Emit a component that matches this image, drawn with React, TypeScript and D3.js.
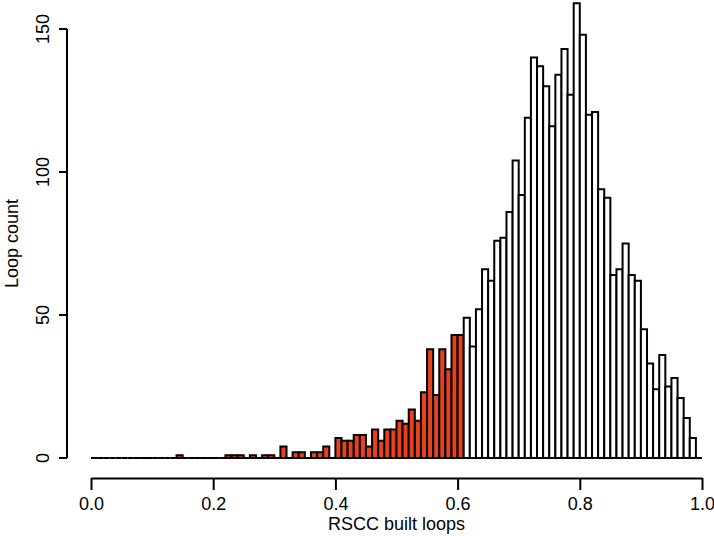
import React, { useRef, useEffect } from 'react';
import * as d3 from 'd3';

// histogram counts, bin width 0.01, starting at 0.00
// bins below 0.61 are highlighted in red
const lowCounts = [
  0, 0, 0, 0, 0, 0, 0, 0, 0, 0, 0, 0, 0, 0, 1, 0, 0, 0, 0, 0,
  0, 0, 1, 1, 1, 0, 1, 0, 1, 1, 0, 4, 0, 2, 2, 0, 2, 2, 4, 0,
  7, 6, 6, 8, 8, 4, 10, 6, 10, 10, 13, 12, 17, 13, 23, 38, 22, 38, 31, 43,
  43
];
const highCounts = [
  49, 39, 52, 66, 62, 76, 77, 86, 104, 92,
  119, 140, 137, 130, 116, 134, 143, 127, 159, 148,
  120, 121, 94, 91, 64, 66, 75, 64, 62, 45,
  33, 24, 36, 25, 28, 21, 14, 7, 0
];
const binWidth = 0.01;
const xTicks = [0, 0.2, 0.4, 0.6, 0.8, 1.0];
const yTicks = [0, 50, 100, 150];
const xTitle = 'RSCC built loops';
const yTitle = 'Loop count';

export default function App(): JSX.Element {
  const svgRef = useRef<SVGSVGElement>(null);

  useEffect(() => {
    const svgEle = svgRef.current;
    if (svgEle == null) return;
    const svg = d3.select(svgEle);
    svg.selectAll('*').remove();

    const font = '"Liberation Sans", Arial, Helvetica, sans-serif';
    const fontSize = 18;

    const x = d3.scaleLinear().domain([0, 1]).range([91, 702]);
    const y = d3.scaleLinear().domain([0, 150]).range([458, 29]);

    const bins = [
      ...lowCounts.map((c, i) => ({ x0: i * binWidth, count: c, red: true })),
      ...highCounts.map((c, i) => ({
        x0: (lowCounts.length + i) * binWidth,
        count: c,
        red: false
      }))
    ];

    // bars drawn as closed paths so empty bins still show as a line
    svg
      .append('g')
      .selectAll('path')
      .data(bins)
      .join('path')
      .attr('d', (d) => {
        const p = d3.path();
        const x0 = x(d.x0);
        const x1 = x(d.x0 + binWidth);
        p.moveTo(x0, y(0));
        p.lineTo(x0, y(d.count));
        p.lineTo(x1, y(d.count));
        p.lineTo(x1, y(0));
        p.closePath();
        return p.toString();
      })
      .attr('fill', (d) => (d.red ? '#E8411E' : '#ffffff'))
      .attr('stroke', '#000')
      .attr('stroke-width', 2)
      .attr('stroke-linejoin', 'miter');

    // x axis
    const xAxis = d3
      .axisBottom(x)
      .tickValues(xTicks)
      .tickFormat(d3.format('.1f'))
      .tickSize(12)
      .tickPadding(7)
      .tickSizeOuter(0);
    const gx = svg.append('g').attr('transform', 'translate(0,478)').call(xAxis);
    gx.select('.domain').attr('stroke', '#000').attr('stroke-width', 2);
    gx.selectAll('.tick line').attr('stroke', '#000').attr('stroke-width', 2);
    gx.selectAll('.tick text')
      .attr('font-family', font)
      .attr('font-size', fontSize)
      .attr('fill', '#000');

    // y axis
    const gy = svg.append('g');
    gy.append('line')
      .attr('x1', 67)
      .attr('x2', 67)
      .attr('y1', y(0))
      .attr('y2', y(150))
      .attr('stroke', '#000')
      .attr('stroke-width', 2);
    gy.selectAll('line.tick')
      .data(yTicks)
      .join('line')
      .attr('class', 'tick')
      .attr('x1', 59)
      .attr('x2', 67)
      .attr('y1', (d) => y(d))
      .attr('y2', (d) => y(d))
      .attr('stroke', '#000')
      .attr('stroke-width', 2);
    gy.selectAll('text')
      .data(yTicks)
      .join('text')
      .attr('transform', (d) => `translate(49,${y(d)}) rotate(-90)`)
      .attr('text-anchor', 'middle')
      .attr('font-family', font)
      .attr('font-size', fontSize)
      .text((d) => String(d));

    svg
      .append('text')
      .attr('x', 396.5)
      .attr('y', 530)
      .attr('text-anchor', 'middle')
      .attr('font-family', font)
      .attr('font-size', fontSize)
      .text(xTitle);

    svg
      .append('text')
      .attr('transform', `translate(18,${(y(0) + y(150)) / 2}) rotate(-90)`)
      .attr('text-anchor', 'middle')
      .attr('font-family', font)
      .attr('font-size', fontSize)
      .text(yTitle);
  }, []);

  return (
    <svg
      ref={svgRef}
      width={714}
      height={536}
      style={{ position: 'absolute', left: 0, top: 0, background: '#fff' }}
    />
  );
}
